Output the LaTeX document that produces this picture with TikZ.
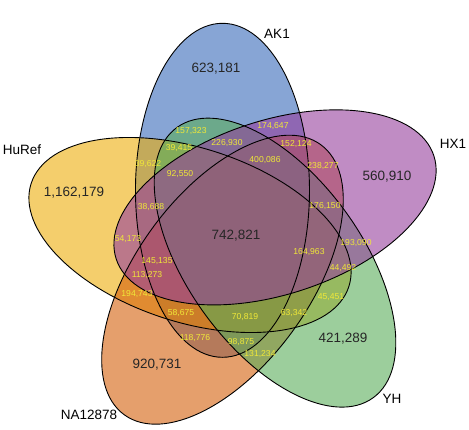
\documentclass[tikz,border=0pt]{standalone}
\usepackage{fontspec}
\setmainfont{Liberation Sans}
\definecolor{akblue}{RGB}{55,105,185}
\definecolor{hxpurple}{RGB}{150,63,157}
\definecolor{yhgreen}{RGB}{90,173,90}
\definecolor{naorange}{RGB}{212,95,10}
\definecolor{huyellow}{RGB}{236,174,10}
\definecolor{cntyellow}{RGB}{240,232,55}
\usetikzlibrary{positioning}

\begin{document}
\begin{tikzpicture}[x=1pt,y=1pt,
  venn/.style={fill opacity=0.6},
  setname/.style={font=\fontsize{13.5}{14}\selectfont,text=black},
  bigcnt/.style={font=\fontsize{13.5}{14}\selectfont,text=black!85},
  smallcnt/.style={font=\fontsize{8.6}{9}\selectfont,text=cntyellow}]
  \useasboundingbox (0,0) rectangle (469,-429);
  % Five ellipses round the centre
  \begin{scope}[shift={(237,-235)}]
    \fill[venn,fill=akblue,rotate around={90:(108:47)}] (108:47) ellipse [x radius=167pt,y radius=87pt];
    \fill[venn,fill=huyellow,rotate around={162:(180:47)}] (180:47) ellipse [x radius=167pt,y radius=87pt];
    \fill[venn,fill=naorange,rotate around={54:(-108:47)}] (-108:47) ellipse [x radius=167pt,y radius=87pt];
    \fill[venn,fill=yhgreen,rotate around={-54:(-36:47)}] (-36:47) ellipse [x radius=167pt,y radius=87pt];
    \fill[venn,fill=hxpurple,rotate around={18:(36:47)}] (36:47) ellipse [x radius=167pt,y radius=87pt];
    % Outlines
    \foreach \ang/\axis in {108/90,36/18,-36/-54,-108/54,180/162}
      \draw[line width=0.9pt,rotate around={\axis:(\ang:47)}] (\ang:47) ellipse [x radius=167pt,y radius=87pt];
  \end{scope}
  % Set names
  \node[setname] (ak) at (277,-34) {AK1};
  \node[setname] (hx) at (453,-144) {HX1};
  \node[setname] (hu) at (22,-150) {HuRef};
  \node[setname] (na) at (89,-415) {NA12878};
  \node[setname] (yh) at (392,-399) {YH};
  % Single sets and all five
  \node[bigcnt] (akonly) at (216,-69) {623,181};
  \node[bigcnt] (hxonly) at (387,-177) {560,910};
  \node[bigcnt] (huonly) at (74,-193) {1,162,179};
  \node[bigcnt] (naonly) at (157,-365) {920,731};
  \node[bigcnt] (yhonly) at (343,-339) {421,289};
  \node[bigcnt] (all) at (236,-236) {742,821};
  % Other intersections
  \node[smallcnt] (c01) at (191,-131) {157,323};
  \node[smallcnt] (c02) at (273,-126) {174,647};
  \node[smallcnt] (c03) at (227,-143) {226,930};
  \node[smallcnt] (c04) at (179,-148) {39,415};
  \node[smallcnt] (c05) at (296,-144) {152,124};
  \node[smallcnt] (c06) at (148,-164) {39,622};
  \node[smallcnt] (c07) at (265,-160) {400,086};
  \node[smallcnt] (c08) at (323,-166) {238,277};
  \node[smallcnt] (c09) at (180,-174) {92,550};
  \node[smallcnt] (c10) at (151,-207) {38,688};
  \node[smallcnt] (c11) at (325,-206) {176,150};
  \node[smallcnt] (c12) at (128,-239) {54,173};
  \node[smallcnt] (c13) at (356,-243) {193,090};
  \node[smallcnt] (c14) at (309,-252) {164,963};
  \node[smallcnt] (c15) at (157,-261) {145,135};
  \node[smallcnt] (c16) at (147,-275) {113,273};
  \node[smallcnt] (c17) at (343,-268) {44,492};
  \node[smallcnt] (c18) at (137,-294) {194,743};
  \node[smallcnt] (c19) at (331,-297) {45,451};
  \node[smallcnt] (c20) at (181,-313) {58,675};
  \node[smallcnt] (c21) at (245,-317) {70,819};
  \node[smallcnt] (c22) at (294,-313) {63,342};
  \node[smallcnt] (c23) at (195,-338) {118,776};
  \node[smallcnt] (c24) at (241,-342) {98,875};
  \node[smallcnt] (c25) at (260,-354) {131,234};
\end{tikzpicture}
\end{document}
